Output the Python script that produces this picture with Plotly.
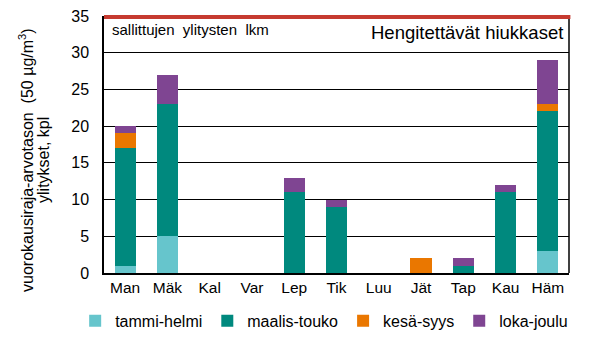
import plotly.graph_objects as go

categories = ["Man", "Mäk", "Kal", "Var", "Lep", "Tik", "Luu", "Jät", "Tap", "Kau", "Häm"]
tammi_helmi = [1, 5, 0, 0, 0, 0, 0, 0, 0, 0, 3]
maalis_touko = [16, 18, 0, 0, 11, 9, 0, 0, 1, 11, 19]
kesa_syys = [2, 0, 0, 0, 0, 0, 0, 2, 0, 0, 1]
loka_joulu = [1, 4, 0, 0, 2, 1, 0, 0, 1, 1, 6]
y_ticks = [0, 5, 10, 15, 20, 25, 30, 35]
y_max = 35
limit_value = 35

series = [
    ("tammi-helmi", tammi_helmi, "#66C5CC"),
    ("maalis-touko", maalis_touko, "#00897E"),
    ("kesä-syys", kesa_syys, "#EA7700"),
    ("loka-joulu", loka_joulu, "#7F4592"),
]

fig = go.Figure()
for name, vals, col in series:
    fig.add_trace(go.Bar(x=categories, y=vals, name=name, marker_color=col,
                         marker_line_width=0, width=0.5))

font = "Liberation Sans, Arial, sans-serif"
fig.update_layout(
    barmode="stack",
    width=611, height=355,
    margin=dict(l=104, r=42, t=16, b=82, autoexpand=False),
    plot_bgcolor="white", paper_bgcolor="white",
    font=dict(family=font, color="black", size=16),
    showlegend=True,
    legend=dict(orientation="h", x=-0.062, xanchor="left",
                y=-0.12, yanchor="top",
                font=dict(size=16, family=font, color="black"), itemwidth=30,
                traceorder="normal", tracegroupgap=0, bgcolor="rgba(0,0,0,0)"),
    xaxis=dict(showline=True, linecolor="black", linewidth=1.5, mirror=False,
               ticks="", tickfont=dict(size=15.5), range=[-0.5, 10.5]),
    yaxis=dict(range=[0, y_max], tickvals=y_ticks, showgrid=True, gridcolor="black",
               gridwidth=1, showline=True, linecolor="black", linewidth=1.5,
               ticks="", tickfont=dict(size=16), zeroline=False, ticklabelstandoff=10),
)
fig.add_shape(type="line", xref="paper", yref="paper", x0=1, x1=1, y0=0, y1=1,
              line=dict(color="black", width=1.5))
fig.add_shape(type="line", xref="paper", yref="paper", x0=0, x1=1.003,
              y0=limit_value / y_max - 0.004, y1=limit_value / y_max - 0.004,
              line=dict(color="#C63A30", width=4))

fig.add_annotation(text="sallittujen&nbsp; ylitysten&nbsp; lkm", xref="paper", yref="y",
                   x=0.012, y=33.1, xanchor="left", yanchor="middle", showarrow=False,
                   font=dict(size=15, family=font))
fig.add_annotation(text="Hengitettävät hiukkaset", xref="paper", yref="y",
                   x=0.991, y=32.7, xanchor="right", yanchor="middle", showarrow=False,
                   font=dict(size=18.5, family=font))
fig.add_annotation(text="vuorokausiraja-arvotason&nbsp; (50 µg/m<sup>3</sup>)",
                   xref="paper", yref="paper", x=-0.1677, y=0.44, xanchor="center",
                   yanchor="middle", textangle=-90, showarrow=False,
                   font=dict(size=16, family=font))
fig.add_annotation(text="ylitykset, kpl",
                   xref="paper", yref="paper", x=-0.129, y=0.44, xanchor="center",
                   yanchor="middle", textangle=-90, showarrow=False,
                   font=dict(size=16, family=font))

fig.write_html("out.html", config={"displayModeBar": False},
               post_script="document.body.style.margin='0px';")
